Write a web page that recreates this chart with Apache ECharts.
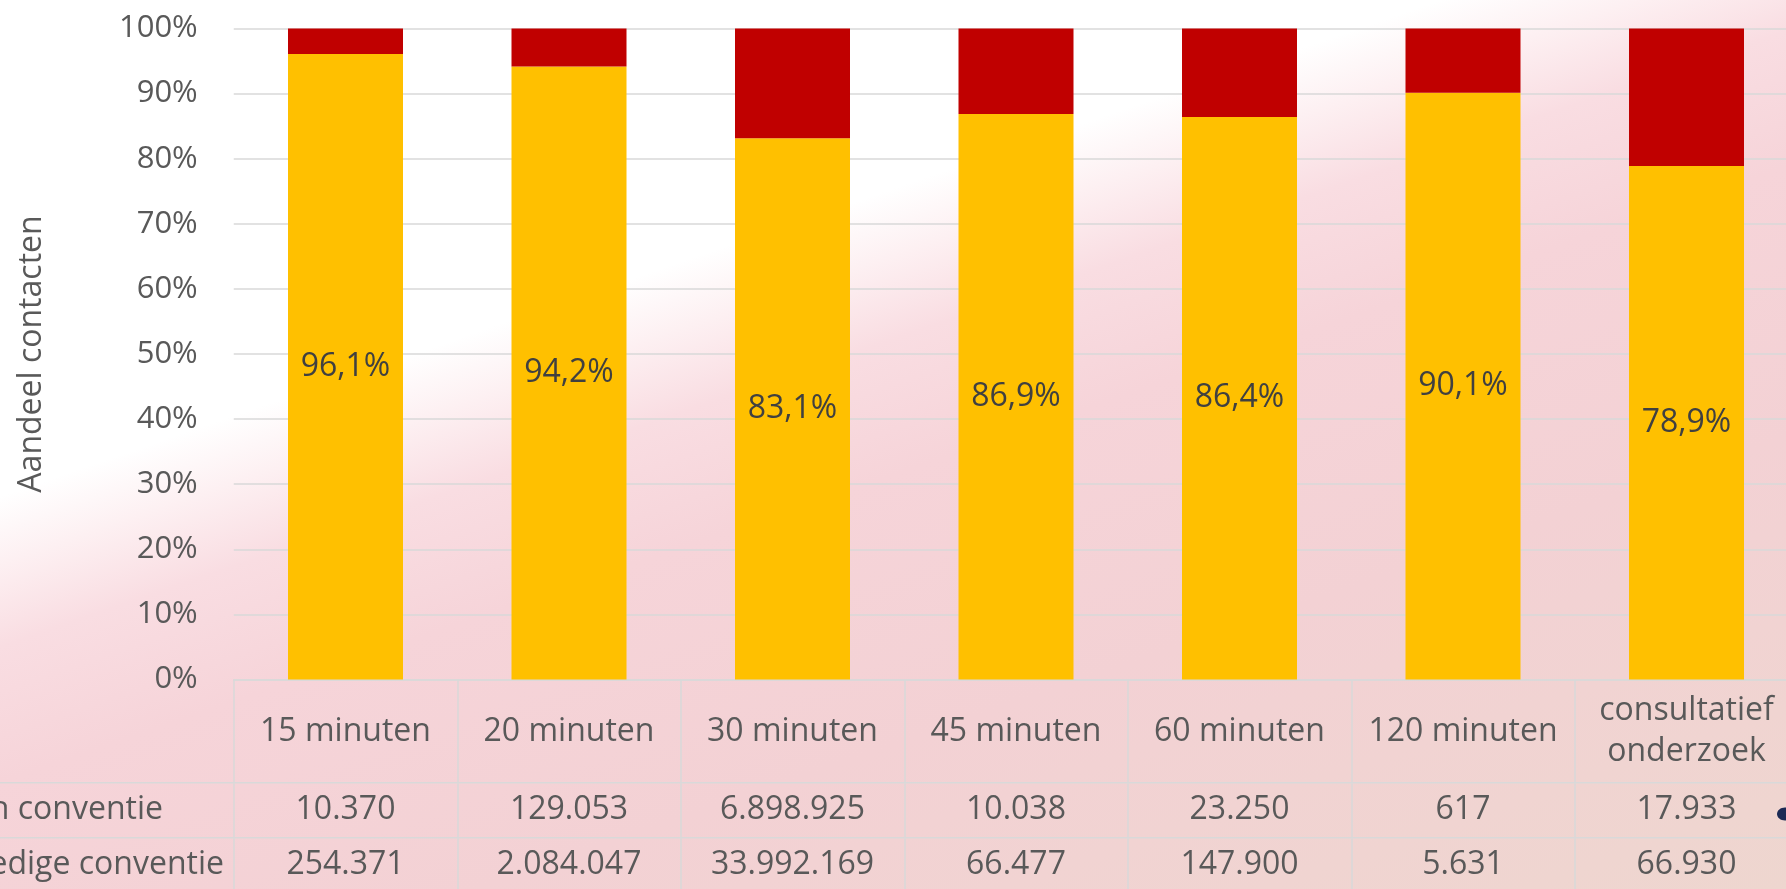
<!DOCTYPE html>
<html>
<head>
<meta charset="utf-8">
<script src="https://cdn.jsdelivr.net/npm/echarts@6/dist/echarts.min.js"></script>
<style>
html,body{margin:0;padding:0;width:1786px;height:889px;overflow:hidden;}
#chart{width:1786px;height:889px;
background:
 linear-gradient(161deg, #ffffff 0%, #ffffff 33%, #fdf0f2 37.5%, #f9dde2 43%, #f6d4d9 52%, #f3d1d4 70%, #eed6cf 100%);
}
</style>
</head>
<body>
<div id="chart"></div>
<script>
const categories = ['15 minuten','20 minuten','30 minuten','45 minuten','60 minuten','120 minuten','consultatief\nonderzoek'];
const geenConventie = [10370,129053,6898925,10038,23250,617,17933];
const volledigeConventie = [254371,2084047,33992169,66477,147900,5631,66930];
const rowNames = ['Geen conventie','Volledige conventie'];
const yAxisName = 'Aandeel contacten';

const FONT = 'Open Sans';
const GREY = '#595959';
const fmtNum = n => String(n).replace(/\B(?=(\d{3})+(?!\d))/g, '.');
const totals = categories.map((_, i) => geenConventie[i] + volledigeConventie[i]);
const shareVol = volledigeConventie.map((v, i) => v / totals[i] * 100);
const shareGeen = geenConventie.map((v, i) => v / totals[i] * 100);

const chart = echarts.init(document.getElementById('chart'), null, {renderer:'canvas'});
const gridLeft = 233.75, gridWidth = 1564.5, gridTop = 28.5, gridHeight = 651;
const gridBottomY = gridTop + gridHeight;

const rowAxis = (values, margin) => ({
  type:'category', gridIndex:0, data:categories, position:'bottom',
  axisLine:{show:false}, axisTick:{show:false}, splitLine:{show:false},
  axisLabel:{interval:0, margin:margin, verticalAlign:'middle', color:GREY, fontFamily:FONT, fontSize:32,
    formatter:(v, i) => fmtNum(values[i])}
});

chart.setOption({
  backgroundColor:'transparent',
  animation:false,
  textStyle:{fontFamily:FONT},
  grid:[
    {left:gridLeft, top:gridTop, width:gridWidth, height:gridHeight, outerBoundsMode:'none', containLabel:false},
    {left:gridLeft, top:gridBottomY, width:gridWidth, height:889 - gridBottomY + 20, outerBoundsMode:'none', containLabel:false}
  ],
  xAxis:[
    {type:'category', gridIndex:0, data:categories,
     axisLine:{show:true, lineStyle:{color:'#d9d9d9', width:1.5}}, axisTick:{show:false},
     axisLabel:{interval:0, margin:52, verticalAlign:'middle', color:GREY, fontFamily:FONT, fontSize:32, lineHeight:41}},
    rowAxis(geenConventie, 130.5),
    rowAxis(volledigeConventie, 185.5),
    {type:'category', gridIndex:1, data:categories,
     axisLine:{show:false}, axisTick:{show:false}, axisLabel:{show:false},
     splitLine:{show:true, interval:0, lineStyle:{color:'#d9d9d9', width:1.5}}}
  ],
  yAxis:[
    {type:'value', gridIndex:0, min:0, max:100, interval:10,
     name:yAxisName, nameLocation:'middle', nameGap:186,
     nameTextStyle:{color:GREY, fontFamily:FONT, fontSize:32},
     axisLine:{show:false}, axisTick:{show:false},
     axisLabel:{formatter:'{value}%', margin:36, color:GREY, fontFamily:FONT, fontSize:31},
     splitLine:{show:true, lineStyle:{color:'#d9d9d9', width:1.5}}},
    {type:'value', gridIndex:1, show:false, splitLine:{show:false}}
  ],
  series:[
    {name:rowNames[1], type:'bar', stack:'t', xAxisIndex:0, yAxisIndex:0, data:shareVol, barWidth:115,
     itemStyle:{color:'#FFC000'},
     label:{show:true, position:'inside', color:'#404040', fontFamily:FONT, fontSize:32,
       formatter:p => p.value.toFixed(1).replace('.', ',') + '%'}},
    {name:rowNames[0], type:'bar', stack:'t', xAxisIndex:0, yAxisIndex:0, data:shareGeen, barWidth:115,
     itemStyle:{color:'#C00000'}}
  ],
  graphic:[
    {type:'line', shape:{x1:0, y1:782.7, x2:1786, y2:782.7}, style:{stroke:'#d9d9d9', lineWidth:1.5}, z:1},
    {type:'line', shape:{x1:0, y1:837.7, x2:1786, y2:837.7}, style:{stroke:'#d9d9d9', lineWidth:1.5}, z:1},
    {type:'text', x:163, y:810, style:{text:rowNames[0], align:'right', verticalAlign:'middle', fill:GREY, font:'32px "Open Sans"'}},
    {type:'text', x:224, y:865, style:{text:rowNames[1], align:'right', verticalAlign:'middle', fill:GREY, font:'32px "Open Sans"'}},
    {type:'ellipse', shape:{cx:1785, cy:814, rx:8, ry:6.5}, style:{fill:'#1c2a55'}}
  ]
});
</script>
</body>
</html>
